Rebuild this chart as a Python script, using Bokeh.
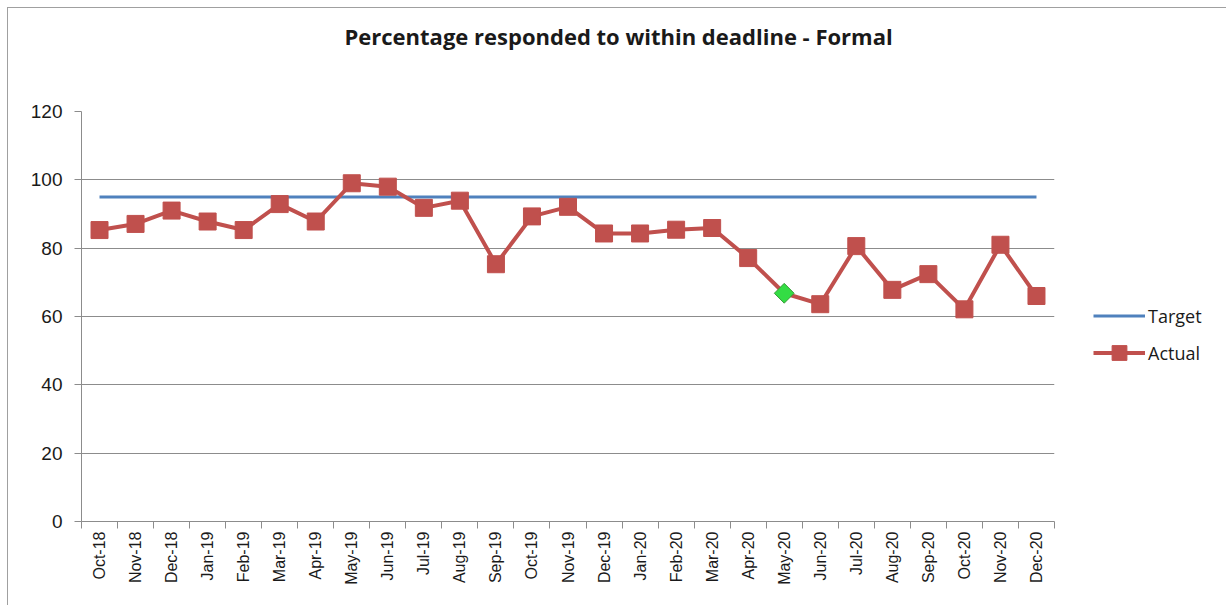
import math

from bokeh.embed import file_html
from bokeh.layouts import row
from bokeh.models import (CDSView, ColumnDataSource, FixedTicker, IndexFilter,
                          Legend, LegendItem, Range1d)
from bokeh.plotting import figure
from bokeh.resources import INLINE

# Monthly performance, formal requests
months = ["Oct-18", "Nov-18", "Dec-18", "Jan-19", "Feb-19", "Mar-19", "Apr-19",
          "May-19", "Jun-19", "Jul-19", "Aug-19", "Sep-19", "Oct-19", "Nov-19",
          "Dec-19", "Jan-20", "Feb-20", "Mar-20", "Apr-20", "May-20", "Jun-20",
          "Jul-20", "Aug-20", "Sep-20", "Oct-20", "Nov-20", "Dec-20"]
actual = [85.3, 87.1, 91.0, 87.8, 85.3, 92.9, 87.8, 99.0, 98.0, 91.8, 93.9,
          75.3, 89.3, 92.1, 84.3, 84.3, 85.4, 85.9, 77.1, 66.8, 63.6, 80.6,
          67.8, 72.4, 62.1, 81.0, 66.0]
target_value = 95
target = [target_value] * len(months)
highlight_month = "May-20"
y_ticks = [0, 20, 40, 60, 80, 100, 120]

# each month occupies one unit slot; points sit in the middle of the slot
xs = [i + 0.5 for i in range(len(months))]
boundaries = list(range(len(months) + 1))

src = ColumnDataSource(dict(x=xs, month=months, actual=actual, target=target))
hi = months.index(highlight_month)
normal_idx = [i for i in range(len(months)) if i != hi]

RED = "#C0504D"
BLUE = "#4F81BD"
GRID = "#8c8c8c"
TEXT = "#1a1a1a"

p = figure(width=1080, height=597,
           x_range=Range1d(0, len(months)), y_range=Range1d(0, 120),
           output_backend="svg", toolbar_location=None,
           min_border_left=73, min_border_right=34,
           min_border_top=103, min_border_bottom=84)
p.outline_line_color = None
p.background_fill_color = "white"
p.border_fill_color = "white"

# chart title, lifted towards the top edge with bottom padding
p.title.text = "Percentage responded to within deadline - Formal"
p.title.align = "left"
p.title.offset = 263
p.title.standoff = 0
p.title.padding = dict(left=0, right=0, top=0, bottom=61)
p.title.text_font = "Open Sans"
p.title.text_font_style = "bold"
p.title.text_font_size = "22px"
p.title.text_color = TEXT

# axes
p.xaxis.ticker = FixedTicker(ticks=xs, minor_ticks=boundaries)
p.xaxis.major_label_overrides = {x: m for x, m in zip(xs, months)}
p.xaxis.major_label_orientation = math.pi / 2
p.xaxis.major_tick_line_color = None
p.xaxis.minor_tick_in = 0
p.xaxis.minor_tick_out = 7
p.xaxis.minor_tick_line_color = GRID
p.xaxis.axis_line_color = GRID
p.xaxis.major_label_standoff = 3
p.xaxis.major_label_text_font = "Liberation Sans"
p.xaxis.major_label_text_font_size = "16px"
p.xaxis.major_label_text_color = TEXT

p.yaxis.ticker = FixedTicker(ticks=y_ticks, minor_ticks=[])
p.yaxis.major_tick_in = 0
p.yaxis.major_tick_out = 7
p.yaxis.major_tick_line_color = GRID
p.yaxis.minor_tick_line_color = None
p.yaxis.axis_line_color = GRID
p.yaxis.major_label_standoff = 12
p.yaxis.major_label_text_font = "Liberation Sans"
p.yaxis.major_label_text_font_size = "19px"
p.yaxis.major_label_text_color = TEXT

p.xgrid.grid_line_color = None
p.ygrid.grid_line_color = GRID
p.ygrid.grid_line_width = 1

# series
p.line("x", "target", source=src, line_color=BLUE, line_width=3)
p.line("x", "actual", source=src, line_color=RED, line_width=4)
p.scatter("x", "actual", source=src, view=CDSView(filter=IndexFilter(normal_idx)),
          marker="square", size=17, fill_color=RED, line_color=RED)
p.scatter("x", "actual", source=src, view=CDSView(filter=IndexFilter([hi])),
          marker="square", angle=math.pi / 4, size=14,
          fill_color="#33dd44", line_color="#3a9a3a", line_width=1)

# legend strip to the right of the chart; its key glyphs share the series styles
# and sit outside the strip's visible range, so only the legend shows them
lg = figure(width=138, height=597, x_range=Range1d(0, 1), y_range=Range1d(0, 1),
            x_axis_type=None, y_axis_type=None,
            output_backend="svg", toolbar_location=None, min_border=0)
lg.outline_line_color = None
lg.grid.visible = False
lg.border_fill_color = "white"
key_src = ColumnDataSource(dict(x=[-5.0], y=[-5.0]))
key_target = lg.line("x", "y", source=key_src, line_color=BLUE, line_width=3)
key_line = lg.line("x", "y", source=key_src, line_color=RED, line_width=4)
key_sq = lg.scatter("x", "y", source=key_src, marker="square", size=17,
                    fill_color=RED, line_color=RED)

legend = Legend(items=[LegendItem(label="Target", renderers=[key_target]),
                       LegendItem(label="Actual", renderers=[key_line, key_sq])],
                location=(5, 150), glyph_width=52, glyph_height=37,
                label_standoff=3, spacing=0, padding=0, margin=0,
                border_line_color=None, background_fill_alpha=0,
                label_text_font="Open Sans", label_text_font_size="18px",
                label_text_color=TEXT)
lg.add_layout(legend)

layout = row(p, lg, margin=(7, 0, 0, 7),
             styles={"border-top": "1px solid #a0a0a0",
                     "border-left": "1px solid #a0a0a0"})

open("out.html", "w").write(file_html(layout, INLINE))
